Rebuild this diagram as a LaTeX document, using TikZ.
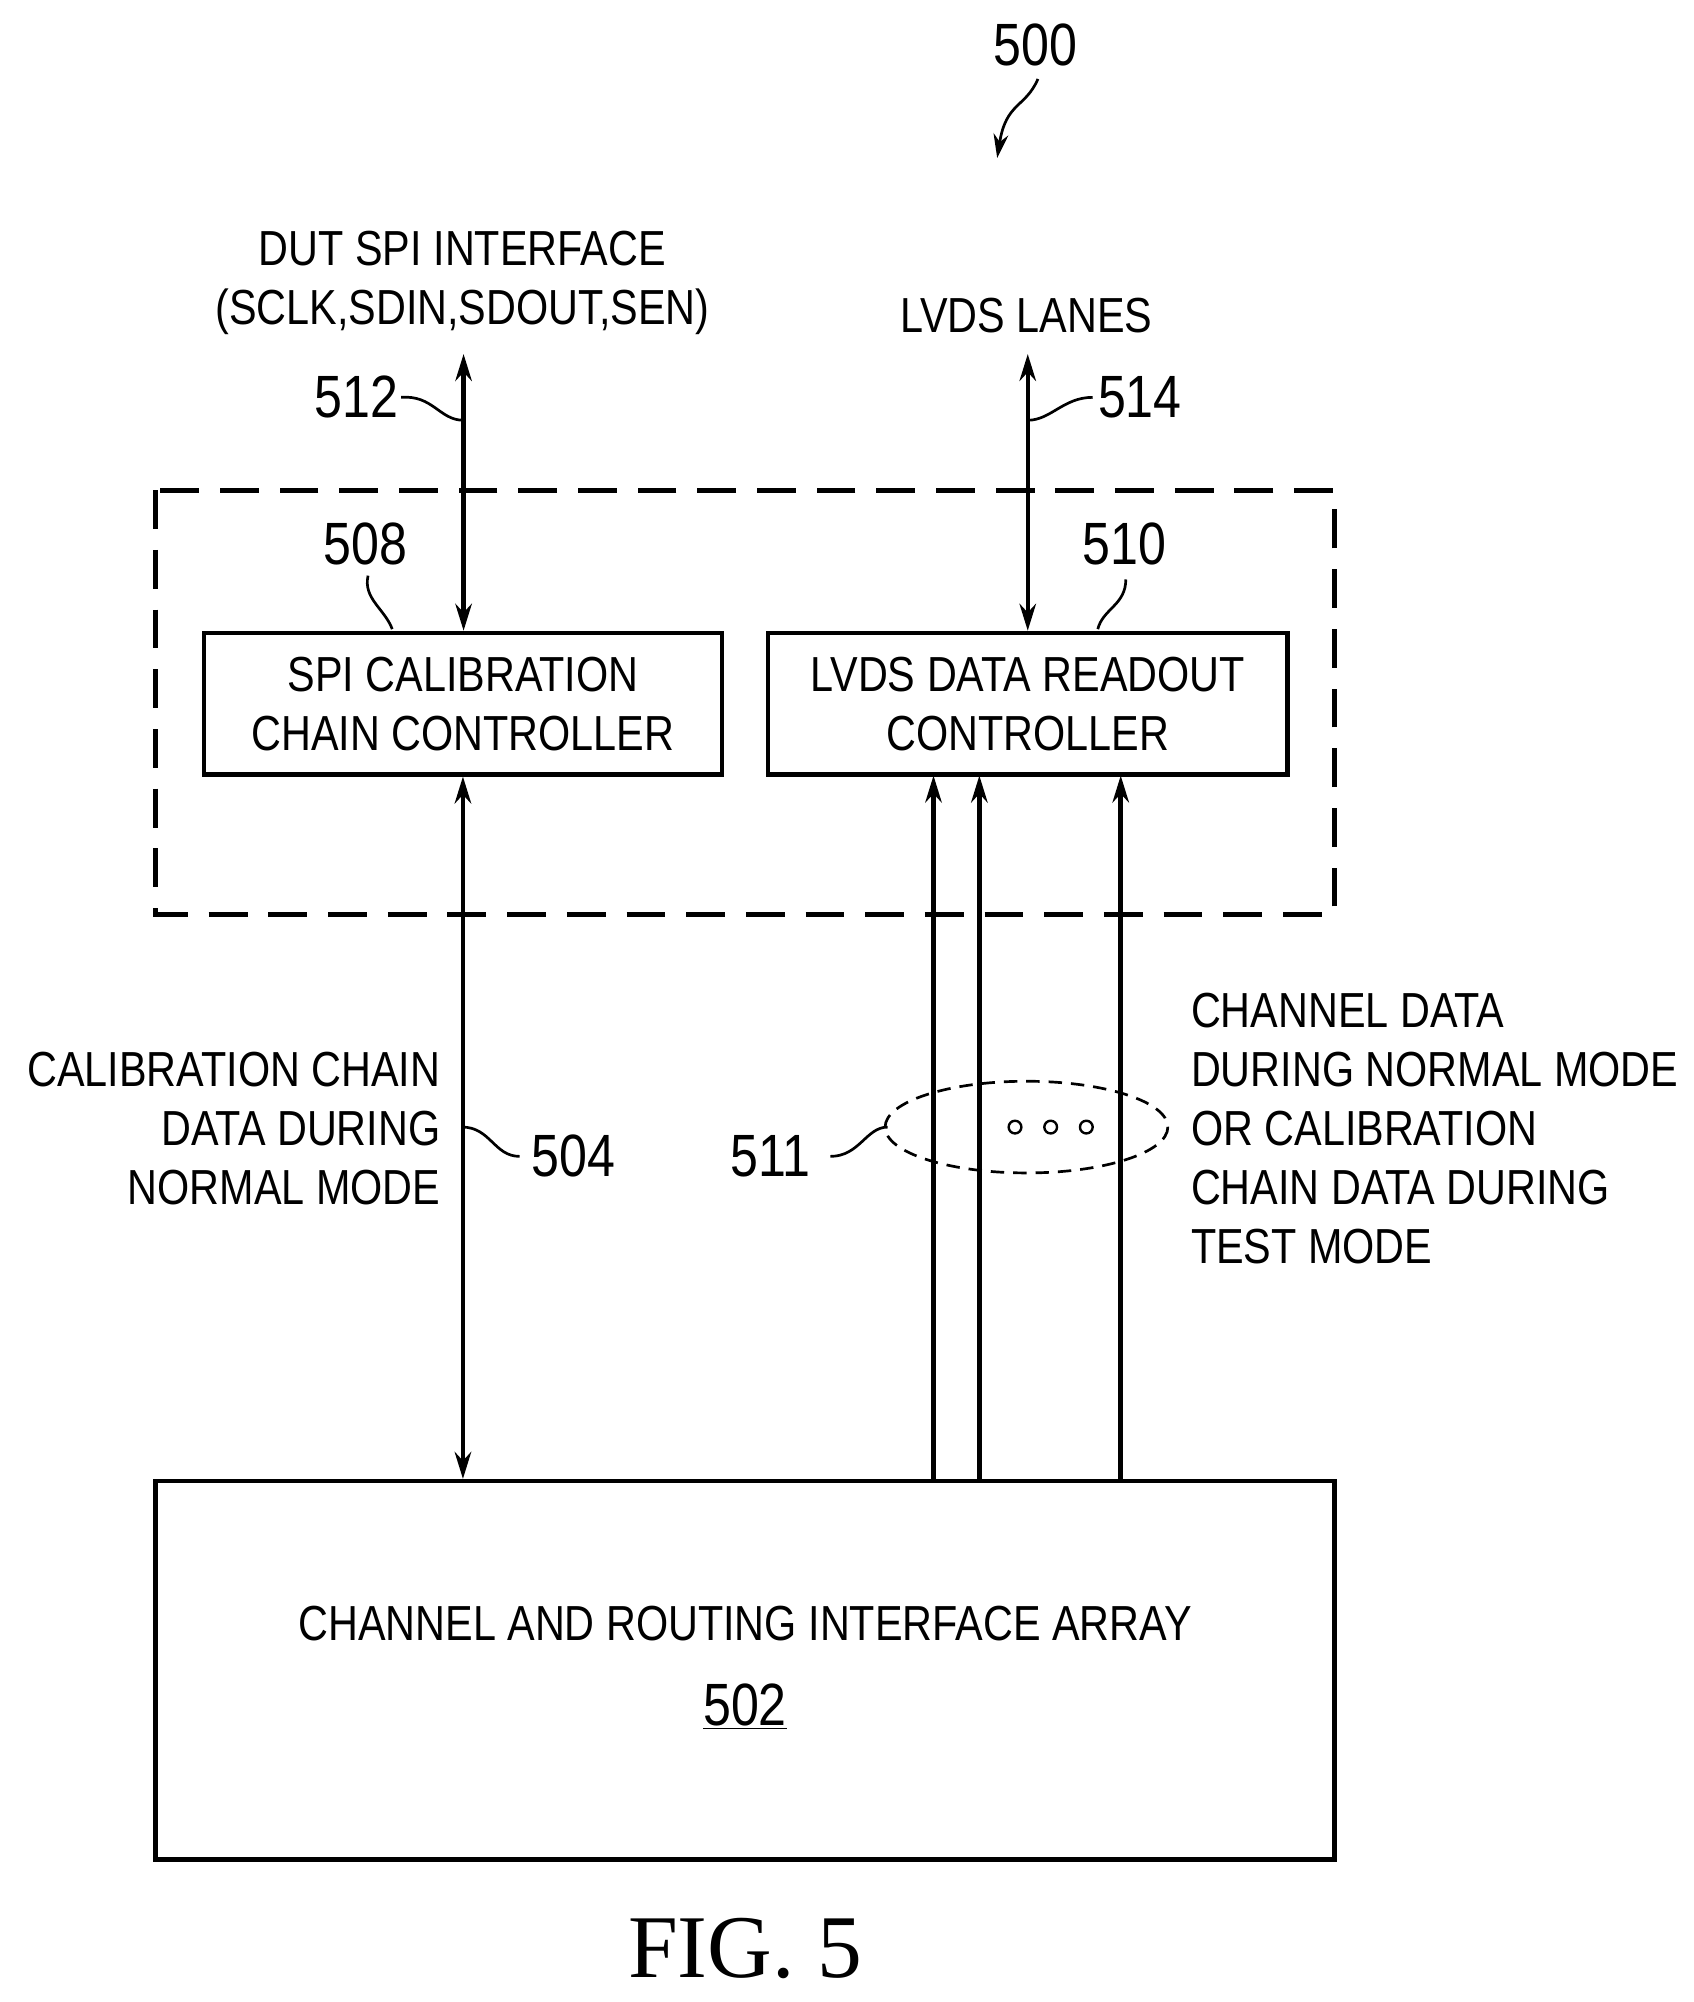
\documentclass[tikz,border=0pt]{standalone}
\usepackage{fontspec}
\setmainfont{Liberation Sans}[FakeStretch=0.84]
\newfontfamily\figfont{Liberation Serif}
\usetikzlibrary{arrows.meta}
\begin{document}
\begin{tikzpicture}[x=0.03cm,y=-0.03cm,
  lw/.style={line width=3pt},
  arr/.style={lw,-{Stealth[length=18pt,width=11pt]}},
  darr/.style={lw,{Stealth[length=18pt,width=11pt]}-{Stealth[length=18pt,width=11pt]}},
  sq/.style={line width=1.8pt},
  txt/.style={font=\fontsize{33}{39.5}\selectfont,inner sep=0pt},
  num/.style={font=\fontsize{40}{40}\selectfont,inner sep=0pt},
  box/.style={draw,lw}]
\useasboundingbox (0,0) rectangle (1330,1572);
\node[num] (n500) at (813,35) {500};
\coordinate (a500) at (783,124);
\draw[sq,-{Stealth[length=16pt,width=10pt]}] (815,62) .. controls (805,85) and (790,80) .. (a500);
\node[txt,align=center] (dut) at (363,222) {DUT SPI INTERFACE\\(SCLK,SDIN,SDOUT,SEN)};
\node[txt] (lanes) at (806,248) {LVDS LANES};
\draw[box,dash pattern=on 26pt off 14pt] (122,385) rectangle (1048,718);
\node[box,minimum width=407*0.03cm,minimum height=111*0.03cm,txt,align=center] (spi) at (363.5,552.5) {SPI CALIBRATION\\CHAIN CONTROLLER};
\node[box,minimum width=408*0.03cm,minimum height=111*0.03cm,txt,align=center] (lvds) at (807,552.5) {LVDS DATA READOUT\\CONTROLLER};
\node[box,minimum width=926*0.03cm,minimum height=297*0.03cm] (arr) at (585,1311.5) {};
\node[txt] (t502a) at (585,1275) {CHANNEL AND ROUTING INTERFACE ARRAY};
\node[num] (t502) at (585,1340) {\underline{502}};
\coordinate (top512) at (364,278);
\coordinate (top514) at (807,278);
\draw[darr] (top512) -- (spi.north -| top512);
\draw[darr] (top514) -- (lvds.north -| top514);
\draw[darr] (spi.south) -- (arr.north -| spi.south);
\foreach \x/\n in {733/a,769/b,880/c}{
  \coordinate (b\n) at (\x,1163);
  \draw[arr] (b\n) -- (\x,609);
}
\node[num] (n512) at (280,312) {512};
\draw[sq] (315,312) .. controls (340,310) and (345,330) .. (364,330);
\node[num] (n514) at (895,312) {514};
\draw[sq] (858,312) .. controls (835,312) and (825,330) .. (807,330);
\node[num] (n508) at (287,427) {508};
\draw[sq] (289,452) .. controls (285,470) and (302,478) .. (308,494);
\node[num] (n510) at (883,427) {510};
\draw[sq] (884,455) .. controls (884,475) and (866,478) .. (862,494);
\draw[sq,dash pattern=on 9pt off 6pt] (806,885) ellipse [x radius=111, y radius=36];
\foreach \x in {797,825,853} \draw[line width=1.6pt] (\x,885) circle (5);
\node[num] (n511) at (605,908) {511};
\draw[sq] (652,908) .. controls (675,908) and (680,885) .. (697,885);
\node[txt,align=right,anchor=east] (lt) at (346,886) {CALIBRATION CHAIN\\DATA DURING\\NORMAL MODE};
\node[num] (n504) at (450,908) {504};
\draw[sq] (363,885) .. controls (385,885) and (388,908) .. (408,908);
\node[txt,align=left,anchor=west] (rt) at (935,886) {CHANNEL DATA\\DURING NORMAL MODE\\OR CALIBRATION\\CHAIN DATA DURING\\TEST MODE};
\node[inner sep=0pt,font=\figfont\fontsize{60}{60}\selectfont] (fig) at (585,1530) {FIG. 5};
\end{tikzpicture}
\end{document}
